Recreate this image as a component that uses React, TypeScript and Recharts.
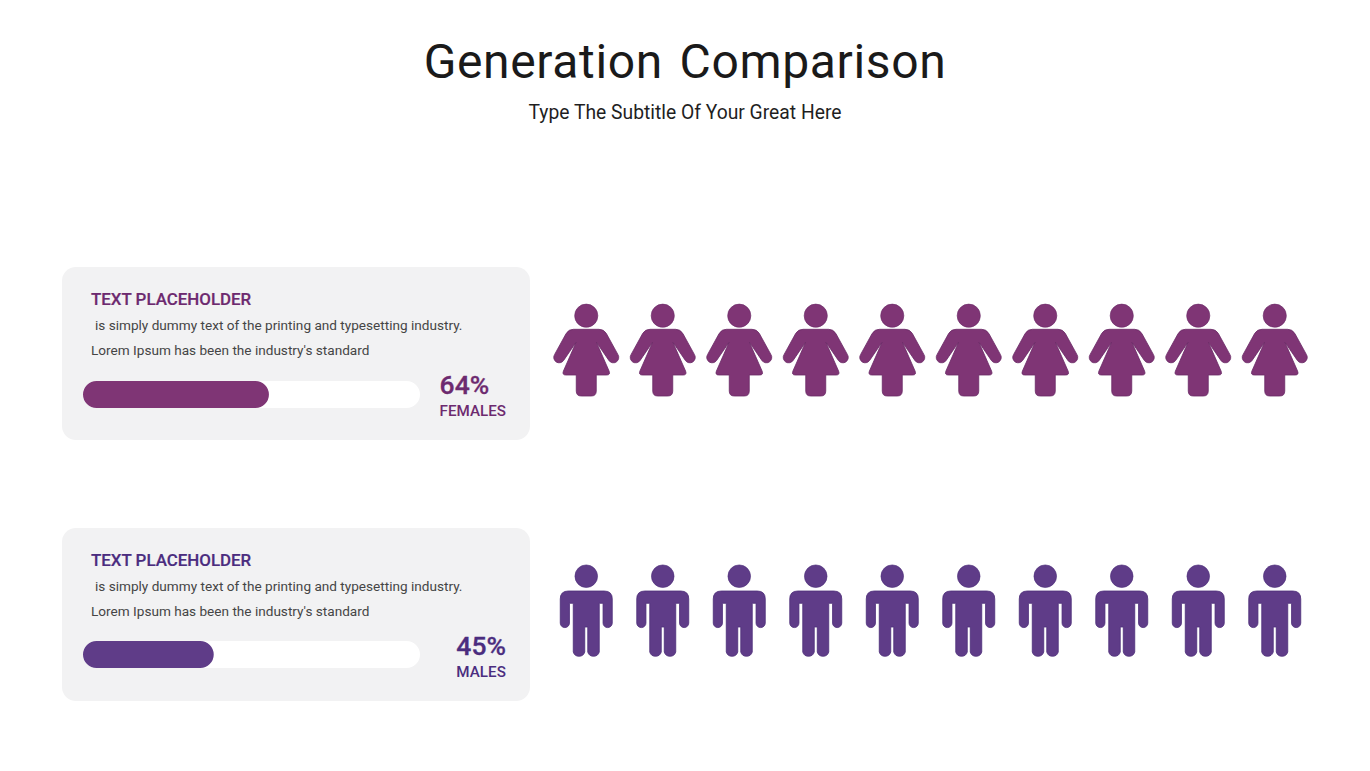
import { Bar, BarChart, Scatter, ScatterChart, XAxis, YAxis } from 'recharts'

const labels = ['FEMALES', 'MALES']
const percents = [64, 45]
const barColors = ['#7f3575', '#5f3c88']
const textColors = ['#6d2a6f', '#4b2d7f']
const iconStrokes = ['#6a2a66', '#4c2d78']
const iconSlots = [1, 2, 3, 4, 5, 6, 7, 8, 9, 10]

const font = 'Roboto, sans-serif'

const femalePath =
  'M-12.7 -20.7 L12.7 -20.7 Q17.5 -20.7 20 -16.7 L31.6 4.4 A5.4 5.4 0 0 1 22.6 10.4 L10.2 -7.7 L22.8 21 Q24.4 25 20.4 25 L10 25 L10 41 Q10 46 5 46 L-5 46 Q-10 46 -10 41 L-10 25 L-20.4 25 Q-24.4 25 -22.8 21 L-10.2 -7.7 L-22.6 10.4 A5.4 5.4 0 0 1 -31.6 4.4 L-20 -16.7 Q-17.5 -20.7 -12.7 -20.7 Z'
const malePath =
  'M-18 -20 L18 -20 Q26 -20 26 -12 L26 12 A4.6 4.6 0 0 1 16.8 12 L16.8 -7.7 L13 -7.7 L13 41 A6 6 0 0 1 1.5 41 L1.5 16 L-1.5 16 L-1.5 41 A6 6 0 0 1 -13 41 L-13 -7.7 L-16.8 -7.7 L-16.8 12 A4.6 4.6 0 0 1 -26 12 L-26 -12 Q-26 -20 -18 -20 Z'

const Person = ({ cx, cy, row }: any) => (
  <g transform={`translate(${cx},${cy})`}>
    <circle cy={row === 0 ? -34.3 : -34.8} r={row === 0 ? 11.6 : 11.3} fill={barColors[row]} stroke={iconStrokes[row]} strokeWidth={0.6} />
    <path d={row === 0 ? femalePath : malePath} fill={barColors[row]} stroke={iconStrokes[row]} strokeWidth={0.8} />
  </g>
)

const place = (left: number, top: number) => ({ position: 'absolute' as const, left, top })

const Panel = ({ row, top }: { row: number; top: number }) => {
  const barData = [{ name: labels[row], value: percents[row] }]
  const iconData = iconSlots.map((slot) => ({ slot, y: 0 }))
  return (
    <>
      <div style={{ ...place(62, top), width: 468, height: 173, background: '#f2f2f3', borderRadius: 14 }} />
      <div style={{ ...place(91, top + 22), fontSize: 16.9, lineHeight: '20px', fontWeight: 500, color: textColors[row], whiteSpace: 'nowrap', WebkitTextStroke: '0.2px' }}>
        TEXT PLACEHOLDER
      </div>
      <div style={{ ...place(95, top + 49), fontSize: 13.6, lineHeight: '18px', color: '#454545', whiteSpace: 'nowrap' }}>
        is simply dummy text of the printing and typesetting industry.
      </div>
      <div style={{ ...place(91, top + 74), fontSize: 13.6, lineHeight: '18px', color: '#454545', whiteSpace: 'nowrap' }}>
        Lorem Ipsum has been the industry's standard
      </div>
      <div style={{ ...place(83, top + (row === 0 ? 114 : 113)) }}>
        <BarChart width={337} height={27} data={barData} layout="vertical" margin={{ top: 0, right: 0, bottom: 0, left: 0 }} barCategoryGap={0}>
          <XAxis type="number" domain={[0, 116]} hide />
          <YAxis type="category" dataKey="name" hide />
          <Bar
            dataKey="value"
            fill={barColors[row]}
            radius={13.5}
            background={{ fill: '#ffffff', radius: 13.5 } as any}
            isAnimationActive={false}
          />
        </BarChart>
      </div>
      <div style={{ ...place(340, top + 103), width: 166, textAlign: 'right' }}>
        <div style={{ display: 'inline-block', textAlign: 'left' }}>
          <div style={{ fontSize: 26.5, lineHeight: '30px', fontWeight: 500, color: textColors[row], WebkitTextStroke: '0.3px' }}>{percents[row]}%</div>
          <div style={{ fontSize: 15.2, lineHeight: '18px', marginTop: 2, fontWeight: 500, color: textColors[row] }}>{labels[row]}</div>
        </div>
      </div>
      <div style={{ ...place(547.75, top + 23) }}>
        <ScatterChart width={765} height={120} margin={{ top: 0, right: 0, bottom: 0, left: 0 }}>
          <XAxis type="number" dataKey="slot" domain={[0.5, 10.5]} hide />
          <YAxis type="number" dataKey="y" domain={[-1, 1]} hide />
          <Scatter data={iconData} shape={(p: any) => <Person cx={p.cx} cy={p.cy} row={row} />} isAnimationActive={false} />
        </ScatterChart>
      </div>
    </>
  )
}

export default function App() {
  return (
    <div style={{ ...place(0, 0), width: 1370, height: 771, background: '#ffffff', fontFamily: font, overflow: 'hidden' }}>
      <div style={{ ...place(0, 31), width: 1370, textAlign: 'center', fontSize: 48, lineHeight: '62px', letterSpacing: 0.65, wordSpacing: 4, color: '#1a1a1a' }}>
        Generation Comparison
      </div>
      <div style={{ ...place(0, 99), width: 1370, textAlign: 'center', fontSize: 19.3, lineHeight: '28px', color: '#1f1f1f' }}>
        Type The Subtitle Of Your Great Here
      </div>
      <Panel row={0} top={267} />
      <Panel row={1} top={528} />
    </div>
  )
}
